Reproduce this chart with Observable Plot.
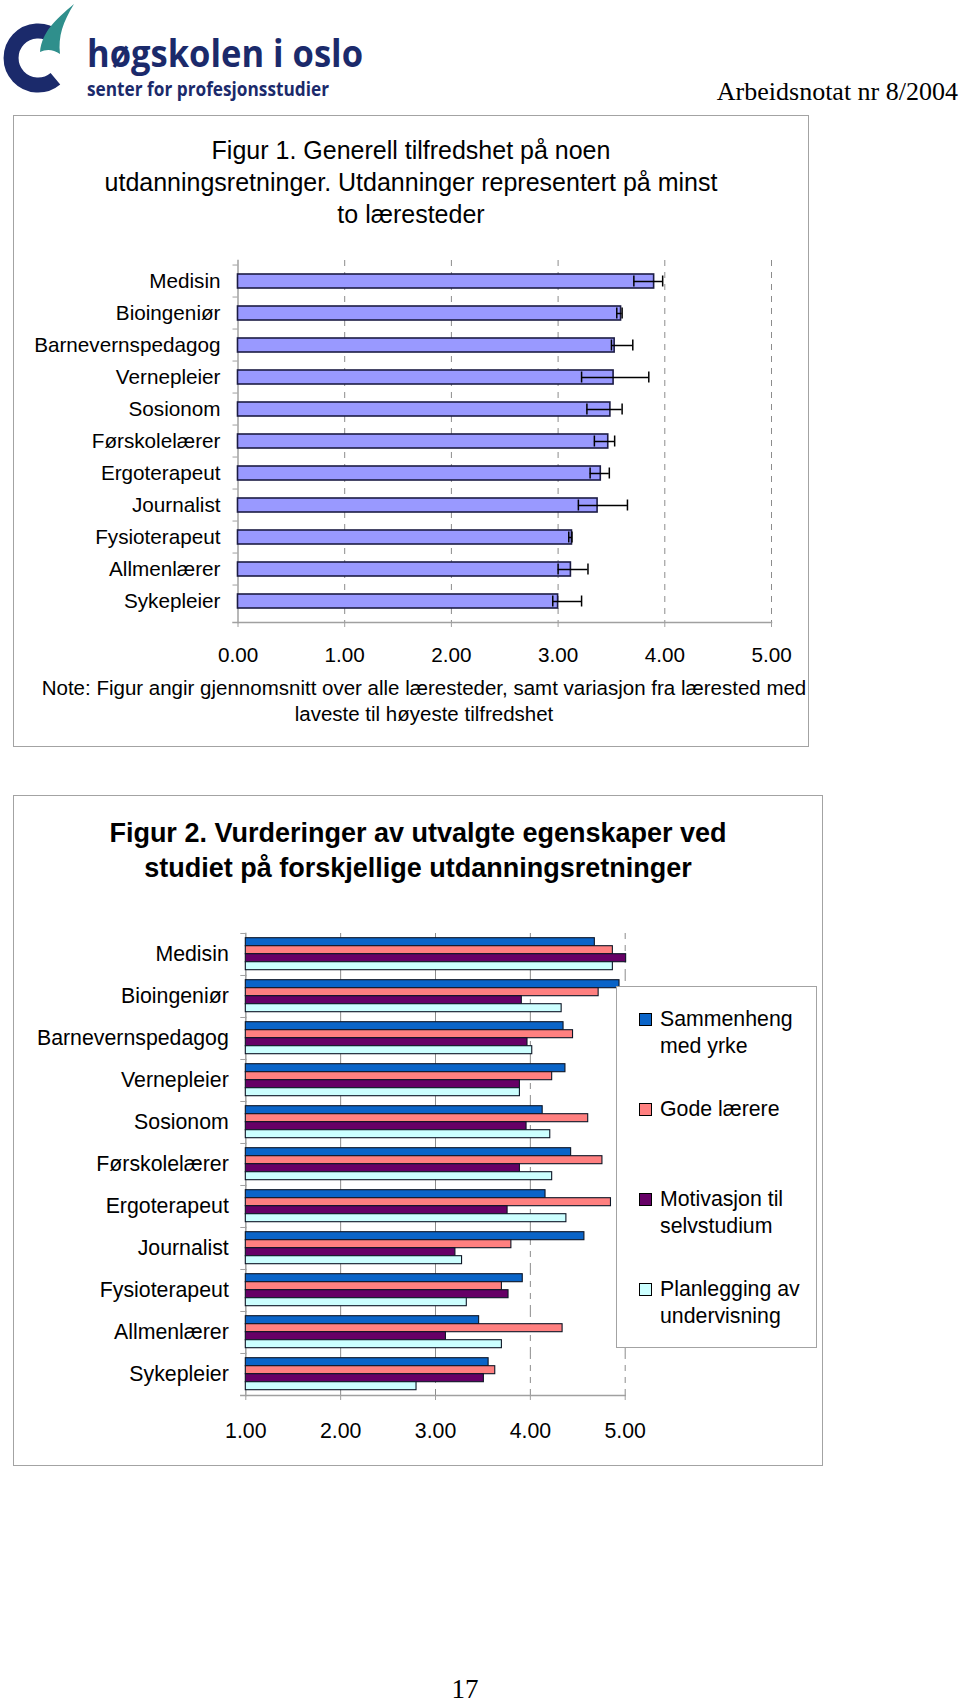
<!DOCTYPE html>
<html><head><meta charset="utf-8">
<script src="https://cdn.jsdelivr.net/npm/d3@7"></script>
<script src="https://cdn.jsdelivr.net/npm/@observablehq/plot@0.6"></script>
<style>
html,body{margin:0;padding:0;background:#fff;}
#page{position:relative;width:960px;height:1703px;overflow:hidden;font-family:"Liberation Sans",Arial,sans-serif;color:#000;}
.abs{position:absolute;}
.box{position:absolute;border:1.5px solid #a3a3a3;box-sizing:border-box;}
.title1{font-size:25px;line-height:32px;text-align:center;}
.title2{font-size:27px;line-height:35px;text-align:center;font-weight:bold;}
.note{font-size:20.5px;line-height:26px;text-align:center;}
.legend{background:#fff;z-index:5;}
.lg-entry{position:absolute;left:0;font-size:21.3px;line-height:27px;}
.lg-sw{position:absolute;width:13px;height:13px;border:1px solid #000;box-sizing:border-box;}
.lg-tx{position:absolute;width:152px;}
</style></head><body><div id="page">

<svg class="abs" style="left:0;top:0" width="420" height="112">
  <path d="M55.4 37.3 A27 27 0 1 0 55.4 78.7" fill="none" stroke="#1b2a6b" stroke-width="15"/>
  <path d="M40 52 C42 32 55 20 74 4 C63 22 58 36 60 54 C53 49 46 49 40 52 Z" fill="#2f8f8c"/>
  <text x="87" y="67" font-family="Open Sans, Liberation Sans, sans-serif" font-weight="700" font-size="37" fill="#1b2a6b" textLength="276" lengthAdjust="spacingAndGlyphs">høgskolen i oslo</text>
  <text x="87" y="96" font-family="Open Sans, Liberation Sans, sans-serif" font-weight="700" font-size="19" fill="#1b2a6b" textLength="242" lengthAdjust="spacingAndGlyphs">senter for profesjonsstudier</text>
</svg>
<svg class="abs" style="left:600px;top:0" width="360" height="112">
  <text x="358" y="100" text-anchor="end" font-family="Liberation Serif, serif" font-size="26" fill="#000">Arbeidsnotat nr 8/2004</text>
</svg>

<div class="box" style="left:13px;top:115px;width:796px;height:632px;"></div>
<div class="abs title1" style="left:13px;top:134px;width:796px;">Figur 1. Generell tilfredshet på noen<br>utdanningsretninger. Utdanninger representert på minst<br>to læresteder</div>
<div id="chart1" class="abs" style="left:0;top:240px;"></div>
<div class="abs note" style="left:40px;top:675px;width:768px;">Note: Figur angir gjennomsnitt over alle læresteder, samt variasjon fra lærested med<br>laveste til høyeste tilfredshet</div>

<div class="box" style="left:13px;top:795px;width:810px;height:671px;"></div>
<div class="abs title2" style="left:13px;top:816px;width:810px;">Figur 2. Vurderinger av utvalgte egenskaper ved<br>studiet på forskjellige utdanningsretninger</div>
<div id="chart2" class="abs" style="left:0;top:915px;"></div>
<div id="legend" class="box legend" style="left:616px;top:986px;width:201px;height:362px;"></div>

<svg class="abs" style="left:400px;top:1658px" width="130" height="45">
  <text x="65" y="40" text-anchor="middle" font-family="Liberation Serif, serif" font-size="27" fill="#000">17</text>
</svg>
</div>
<script>
// ---------- data ----------
const categories = ["Medisin","Bioingeniør","Barnevernspedagog","Vernepleier","Sosionom","Førskolelærer","Ergoterapeut","Journalist","Fysioterapeut","Allmenlærer","Sykepleier"];

// Figur 1: mean satisfaction, lowest and highest institution
const mean1 = [3.90, 3.59, 3.53, 3.52, 3.49, 3.47, 3.40, 3.37, 3.13, 3.12, 3.00];
const low1  = [3.71, 3.55, 3.50, 3.22, 3.27, 3.34, 3.30, 3.19, 3.10, 3.00, 2.95];
const high1 = [3.98, 3.60, 3.70, 3.85, 3.60, 3.53, 3.48, 3.65, 3.13, 3.28, 3.22];
const xTicks1 = [0, 1, 2, 3, 4, 5];
const grid1 = [1, 2, 3, 4, 5];

// Figur 2: four properties per programme
const series = ["Sammenheng med yrke", "Gode lærere", "Motivasjon til selvstudium", "Planlegging av undervisning"];
const sammenheng  = [4.68, 4.94, 4.35, 4.37, 4.13, 4.43, 4.16, 4.57, 3.92, 3.46, 3.56];
const godeLaerere = [4.87, 4.72, 4.45, 4.23, 4.61, 4.76, 4.85, 3.80, 3.70, 4.34, 3.63];
const motivasjon  = [5.01, 3.91, 3.97, 3.89, 3.96, 3.89, 3.76, 3.21, 3.77, 3.11, 3.51];
const planlegging = [4.87, 4.33, 4.02, 3.89, 4.21, 4.23, 4.38, 3.28, 3.33, 3.70, 2.80];
const seriesColors = ["#0a64c8", "#ff8080", "#660066", "#ccffff"];
const xDomain2 = [1, 5];
const xTicks2 = [1, 2, 3, 4, 5];
const grid2 = [2, 3, 4, 5];

// ---------- chart 1 ----------
const data1 = categories.map((c, i) => ({cat: c, mean: mean1[i], lo: low1[i], hi: high1[i]}));
const H1 = 440, mT1 = 20, mB1 = 58;
const step1 = (H1 - mT1 - mB1) / categories.length;
const axisGray = "#a0a0a0";
const fmt = d3.format(".2f");

const chart1 = Plot.plot({
  width: 800, height: H1,
  marginLeft: 237.5, marginRight: 29, marginTop: mT1, marginBottom: mB1,
  style: {fontFamily: "Liberation Sans, Arial, sans-serif", fontSize: "20.7px", color: "#000", background: "transparent", overflow: "visible"},
  x: {domain: [0, 5]},
  y: {domain: categories, paddingInner: 0.55, paddingOuter: 0.275},
  marks: [
    Plot.ruleX(grid1, {stroke: "#8c8c8c", strokeDasharray: "6,6", strokeWidth: 1}),
    Plot.frame({anchor: "left", stroke: axisGray, strokeWidth: 1.5}),
    Plot.frame({anchor: "bottom", stroke: axisGray, strokeWidth: 1.5, insetLeft: -5}),
    Plot.axisX({ticks: xTicks1, tickFormat: fmt, tickSize: 5, tickPadding: 20, stroke: axisGray, label: null}),
    Plot.axisY({tickSize: 0, tickPadding: 17.5, label: null}),
    Plot.axisY({tickSize: 5, tickFormat: () => "", dy: -step1 / 2, stroke: axisGray, label: null}),
    Plot.barX(data1, {x: "mean", y: "cat", fill: "#9999ff", stroke: "#1c1c44", strokeWidth: 1.6}),
    Plot.ruleY(data1, {y: "cat", x1: "lo", x2: "hi", stroke: "#000", strokeWidth: 1.5}),
    Plot.tickX(data1, {y: "cat", x: "lo", stroke: "#000", strokeWidth: 1.5, insetTop: 1.5, insetBottom: 1.5}),
    Plot.tickX(data1, {y: "cat", x: "hi", stroke: "#000", strokeWidth: 1.5, insetTop: 1.5, insetBottom: 1.5})
  ]
});
document.getElementById("chart1").append(chart1);

// ---------- chart 2 ----------
const cols2 = [sammenheng, godeLaerere, motivasjon, planlegging];
const data2 = categories.flatMap((c, i) => series.map((s, j) => ({cat: c, series: s, value: cols2[j][i]})));
const H2 = 540, mT2 = 18.3, mB2 = 59.3;
const step2 = (H2 - mT2 - mB2) / categories.length;

const chart2 = Plot.plot({
  width: 830, height: H2,
  marginLeft: 245.3, marginRight: 205.3, marginTop: mT2, marginBottom: mB2,
  style: {fontFamily: "Liberation Sans, Arial, sans-serif", fontSize: "21.3px", color: "#000", background: "transparent", overflow: "visible"},
  x: {domain: xDomain2},
  fy: {domain: categories, padding: 0},
  y: {domain: series, paddingInner: 0, paddingOuter: 0.625, axis: null},
  color: {domain: series, range: seriesColors},
  marks: [
    Plot.ruleX(grid2, {stroke: "#8c8c8c", strokeDasharray: "6,6", strokeWidth: 1}),
    Plot.frame({anchor: "left", stroke: axisGray, strokeWidth: 1.5}),
    Plot.frame({anchor: "bottom", facetAnchor: "bottom", stroke: axisGray, strokeWidth: 1.5, insetLeft: -5}),
    Plot.axisX({ticks: xTicks2, tickFormat: fmt, tickSize: 5, tickPadding: 22, stroke: axisGray, label: null}),
    Plot.axisFy({anchor: "left", tickSize: 0, tickPadding: 17, label: null}),
    Plot.axisFy({anchor: "left", tickSize: 5, tickFormat: () => "", dy: -step2 / 2, stroke: axisGray, label: null}),
    Plot.barX(data2, {x1: xDomain2[0], x2: "value", y: "series", fy: "cat", fill: "series", stroke: "#0d1626", strokeWidth: 1.1})
  ]
});
document.getElementById("chart2").append(chart2);

// ---------- legend (HTML, colours from the plot's scale) ----------
const color = chart2.scale("color");
const legend = document.getElementById("legend");
series.forEach((s, j) => {
  const e = document.createElement("div");
  e.className = "lg-entry";
  e.style.top = (19 + j * 90) + "px";
  const sw = document.createElement("div");
  sw.className = "lg-sw";
  sw.style.left = "22px"; sw.style.top = "7px";
  sw.style.background = color.apply(s);
  const tx = document.createElement("div");
  tx.className = "lg-tx";
  tx.style.left = "43px"; tx.style.top = "0px";
  tx.textContent = s;
  e.append(sw, tx);
  legend.append(e);
});
</script>
</body></html>
